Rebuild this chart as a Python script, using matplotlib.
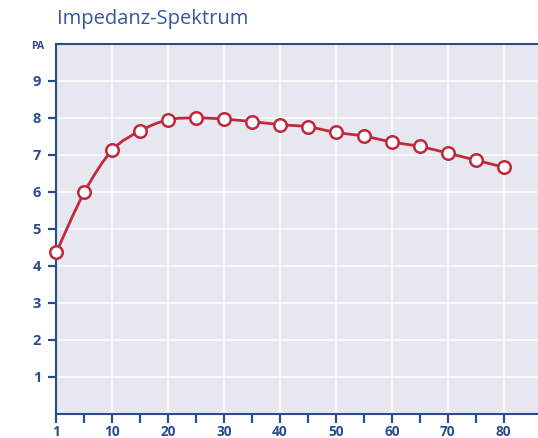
import matplotlib
matplotlib.use("Agg")
import matplotlib.pyplot as plt
from matplotlib.path import Path
from matplotlib.patches import PathPatch
import numpy as np

title = "Impedanz-Spektrum"
x_values = [1, 5, 10, 15, 20, 25, 30, 35, 40, 45, 50, 55, 60, 65, 70, 75, 80]
pa_values = [4.36, 5.98, 7.12, 7.64, 7.94, 7.99, 7.96, 7.89, 7.81, 7.75, 7.60, 7.50, 7.34, 7.22, 7.04, 6.85, 6.66]
x_tick_labels = ["1", "10", "20", "30", "40", "50", "60", "70", "80"]
y_ticks = [1, 2, 3, 4, 5, 6, 7, 8, 9]
y_unit = "PA"

plt.rcParams['font.family'] = ['Open Sans', 'DejaVu Sans']

BLUE = "#2b4c8c"
TITLE_BLUE = "#3556a0"
RED = "#c0283c"
BG = "#e7e7f0"

fig = plt.figure(figsize=(5.38, 4.38), dpi=100)
L, R = 56.3 / 538, 1.0
B, T = (438 - 413.8) / 438, (438 - 43.5) / 438
ax = fig.add_axes([L, B, R - L, T - B])
ax.set_facecolor(BG)

pos = np.arange(len(x_values))
step_px = (503.6 - 56.3) / 16
ax.set_xlim(0, (538 - 56.3) / step_px)
ax.set_ylim(0, 10)

# smooth curve through the points (Catmull-Rom rendered as cubic Bezier)
pts = np.column_stack([pos, pa_values])
verts = [tuple(pts[0])]
codes = [Path.MOVETO]
n = len(pts)
for i in range(n - 1):
    p0 = pts[i - 1] if i > 0 else pts[i]
    p1 = pts[i]
    p2 = pts[i + 1]
    p3 = pts[i + 2] if i + 2 < n else pts[i + 1]
    c1 = p1 + (p2 - p0) / 6.0
    c2 = p2 - (p3 - p1) / 6.0
    verts += [tuple(c1), tuple(c2), tuple(p2)]
    codes += [Path.CURVE4] * 3
patch = PathPatch(Path(verts, codes), facecolor="none", edgecolor=RED,
                  lw=2.0, zorder=3, clip_on=False)
ax.add_patch(patch)

ax.plot(pos, pa_values, linestyle="none", marker="o", markersize=9,
        markerfacecolor="white", markeredgecolor=RED, markeredgewidth=1.8,
        zorder=4, clip_on=False)

# ticks
major_pos = pos[::2]
minor_pos = pos[1::2]
ax.set_xticks(major_pos)
ax.set_xticklabels(x_tick_labels)
ax.set_xticks(minor_pos, minor=True)
ax.set_yticks(y_ticks)
ax.set_yticklabels([str(v) for v in y_ticks])

ax.tick_params(axis="x", which="both", direction="out", length=6.5, width=1.6,
               color=BLUE, labelcolor=BLUE, labelsize=9.8, pad=1.5)
ax.tick_params(axis="y", direction="out", length=6, width=1.6, color=BLUE,
               labelcolor=BLUE, labelsize=10.5, pad=5)
for lab in ax.get_xticklabels() + ax.get_yticklabels():
    lab.set_fontweight("bold")

ax.grid(True, which="major", color="white", lw=1.1, zorder=0)
ax.set_axisbelow(True)

for side in ["left", "bottom", "top"]:
    ax.spines[side].set_color(BLUE)
    ax.spines[side].set_linewidth(1.5)
ax.spines["right"].set_visible(False)

ax.text(-0.026, 1.0 - 3.0 / 370, y_unit, transform=ax.transAxes, ha="right",
        va="center", color=BLUE, fontsize=7.5, fontweight="bold")

fig.text(57 / 538, 1 - 19 / 438, title, ha="left", va="center",
         color=TITLE_BLUE, fontsize=14.5)

fig.savefig("out.png", dpi=100)
